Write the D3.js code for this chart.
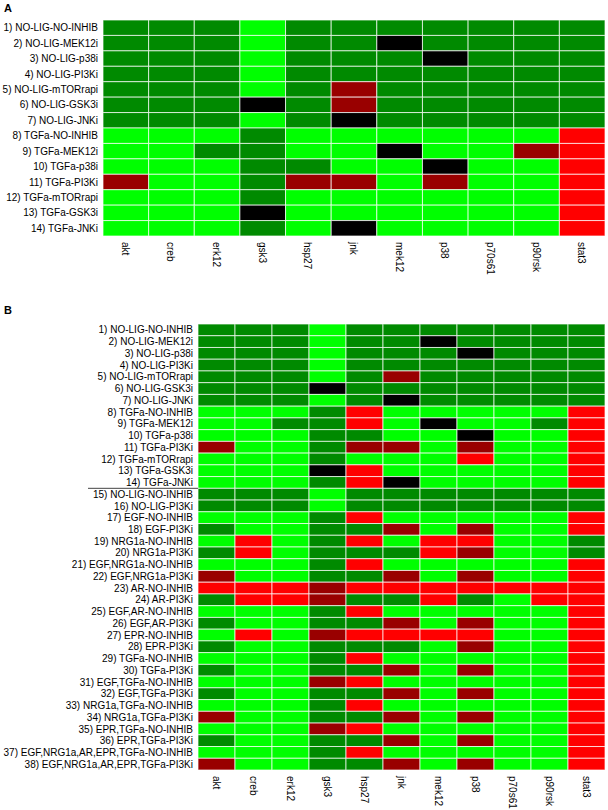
<!DOCTYPE html>
<html><head><meta charset="utf-8">
<script src="https://cdn.jsdelivr.net/npm/d3@7"></script>
<style>body{margin:0;background:#fff}svg{display:block;font-family:"Liberation Sans",Arial,sans-serif}</style>
</head><body><svg id="c" width="608" height="810"></svg>
<script>
const columns = ["akt","creb","erk12","gsk3","hsp27","jnk","mek12","p38","p70s61","p90rsk","stat3"];
// state codes: G dark green, L bright green, R red, D dark red, K black
const stateKeys = ["G","L","R","D","K"];
const stateColors = ["#008a00","#00ff00","#ff0000","#990000","#000000"];

const rowsA = ["1) NO-LIG-NO-INHIB","2) NO-LIG-MEK12i","3) NO-LIG-p38i","4) NO-LIG-PI3Ki","5) NO-LIG-mTORrapi","6) NO-LIG-GSK3i","7) NO-LIG-JNKi","8) TGFa-NO-INHIB","9) TGFa-MEK12i","10) TGFa-p38i","11) TGFa-PI3Ki","12) TGFa-mTORrapi","13) TGFa-GSK3i","14) TGFa-JNKi"];
const valuesA = [
 "GGGLGGGGGGG",
 "GGGLGGKGGGG",
 "GGGLGGGKGGG",
 "GGGLGGGGGGG",
 "GGGLGDGGGGG",
 "GGGKGDGGGGG",
 "GGGLGKGGGGG",
 "LLLGLLLLLLR",
 "LLGGLLKLLDR",
 "LLLGGLLKLLR",
 "DLLGDDLDLLR",
 "LLLGLLLLLLR",
 "LLLKLLLLLLR",
 "LLLGLKLLLLR"
];

const rowsB = ["1) NO-LIG-NO-INHIB","2) NO-LIG-MEK12i","3) NO-LIG-p38i","4) NO-LIG-PI3Ki","5) NO-LIG-mTORrapi","6) NO-LIG-GSK3i","7) NO-LIG-JNKi","8) TGFa-NO-INHIB","9) TGFa-MEK12i","10) TGFa-p38i","11) TGFa-PI3Ki","12) TGFa-mTORrapi","13) TGFa-GSK3i","14) TGFa-JNKi","15) NO-LIG-NO-INHIB","16) NO-LIG-PI3Ki","17) EGF-NO-INHIB","18) EGF-PI3Ki","19) NRG1a-NO-INHIB","20) NRG1a-PI3Ki","21) EGF,NRG1a-NO-INHIB","22) EGF,NRG1a-PI3Ki","23) AR-NO-INHIB","24) AR-PI3Ki","25) EGF,AR-NO-INHIB","26) EGF,AR-PI3Ki","27) EPR-NO-INHIB","28) EPR-PI3Ki","29) TGFa-NO-INHIB","30) TGFa-PI3Ki","31) EGF,TGFa-NO-INHIB","32) EGF,TGFa-PI3Ki","33) NRG1a,TGFa-NO-INHIB","34) NRG1a,TGFa-PI3Ki","35) EPR,TGFa-NO-INHIB","36) EPR,TGFa-PI3Ki","37) EGF,NRG1a,AR,EPR,TGFa-NO-INHIB","38) EGF,NRG1a,AR,EPR,TGFa-PI3Ki"];
const valuesB = [
 "GGGLGGGGGGG",
 "GGGLGGKGGGG",
 "GGGLGGGKGGG",
 "GGGLGGGGGGG",
 "GGGLGDGGGGG",
 "GGGKGGGGGGG",
 "GGGLGKGGGGG",
 "LLLGRLLLLLR",
 "LLGGRLKLLGR",
 "LLLGGLLKLLR",
 "DLLGDDLDLLR",
 "LLLGLLLRLLR",
 "LLLKRLLLLLR",
 "LLLGRKLLLLR",
 "GGGLGGGGGGG",
 "GGGLGGGGGGG",
 "LLLGRLLLLLR",
 "GLLGGDLDLLR",
 "LRLGRLRRLLG",
 "GRLGGGRDLLG",
 "LLLGRLLLLLR",
 "DLLGGDLDLLR",
 "RRRDRRRRRRR",
 "GRRDGGRGLRR",
 "LLLGRLLLLLR",
 "GLLGGDLDLLR",
 "LRLDRRRRLLR",
 "GLLGGGLDLLR",
 "LLLGRLLLLLR",
 "GLLGGDLDLLR",
 "LLLDRLLLLLR",
 "GLLGGDLDLLR",
 "LLLGRLLLLLR",
 "DLLGGDLDLLR",
 "LLLDRLLLLLR",
 "GLLGGDLDLLR",
 "LLLGRLLLLLR",
 "DLLGGDLDLLR"
];

const svg = d3.select("#c");
const color = d3.scaleOrdinal().domain(stateKeys).range(stateColors);

function panel(rows, values, x0, x1, y0, y1, letter, letterY, sepAfter) {
  const x = d3.scaleBand().domain(columns).range([x0, x1]);
  const y = d3.scaleBand().domain(rows.map((r,i)=>i)).range([y0, y1]);
  const g = svg.append("g");
  const cells = [];
  values.forEach((s, i) => columns.forEach((c, j) => cells.push({i, c, v: s[j]})));
  g.selectAll("rect.cell").data(cells).join("rect")
    .attr("class","cell")
    .attr("x", d => x(d.c)).attr("y", d => y(d.i))
    .attr("width", x.bandwidth()).attr("height", y.bandwidth())
    .attr("fill", d => color(d.v))
    .attr("stroke", "rgba(255,255,255,0.7)").attr("stroke-width", 1);
  g.selectAll("text.row").data(rows).join("text")
    .attr("class","row")
    .attr("x", x0 - 5).attr("y", (d,i) => y(i) + y.bandwidth()/2)
    .attr("dy","0.36em").attr("text-anchor","end")
    .attr("font-size", 10).attr("fill","#000").text(d => d);
  g.selectAll("text.col").data(columns).join("text")
    .attr("class","col")
    .attr("transform", d => `translate(${x(d) + x.bandwidth()/2 - 4},${y1 + 6}) rotate(90)`)
    .attr("text-anchor","start").attr("font-size", 10).attr("fill","#000").text(d => d);
  svg.append("text").attr("x", 4).attr("y", letterY).attr("font-size", 11)
    .attr("font-weight","bold").text(letter);
  if (sepAfter != null) {
    const ys = y(sepAfter) + y.bandwidth();
    g.append("line").attr("x1", 88).attr("x2", x0).attr("y1", ys).attr("y2", ys)
      .attr("stroke", "#444").attr("stroke-width", 1);
  }
}

panel(rowsA, valuesA, 103, 605, 20, 236, "A", 12, null);
panel(rowsB, valuesB, 198, 605, 324, 770, "B", 314, 13);
</script></body></html>
